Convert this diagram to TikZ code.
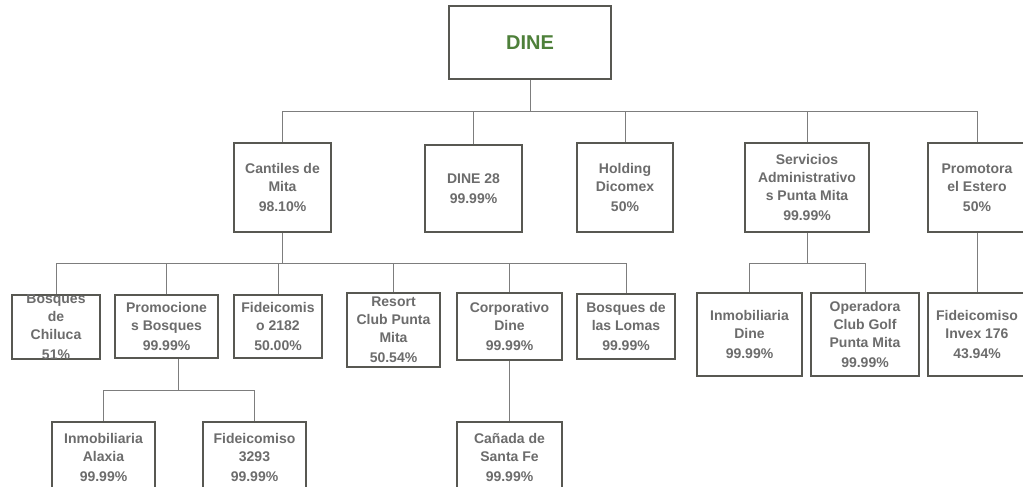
\documentclass[tikz,border=0pt]{standalone}
\usepackage{fontspec}
\setmainfont{Liberation Sans}
\definecolor{boxline}{RGB}{88,88,82}
\definecolor{linkgray}{RGB}{125,125,125}
\definecolor{txtgray}{RGB}{108,108,108}
\definecolor{dinegreen}{RGB}{78,128,58}
\tikzset{
  orgbox/.style={draw=boxline, line width=1.8pt, fill=white, inner sep=0pt},
  orgtext/.style={text=txtgray, font=\fontsize{14}{18}\selectfont\bfseries, align=center, inner sep=0pt},
  link/.style={draw=linkgray, line width=0.9pt}
}

\begin{document}
\begin{tikzpicture}[x=1pt, y=-1pt]
  \useasboundingbox (0,0) rectangle (1023,487);
  \clip (0,0) rectangle (1023,487);

  % holding
  \node[orgbox, line width=2.4pt, minimum width=162pt, minimum height=73pt] (dine) at (530,42.5) {};
  \node[orgtext, text=dinegreen, font=\fontsize{20}{24}\selectfont\bfseries] at (dine) {DINE};

  % companies: name/left/top/right/bottom/text
  \foreach \nm/\xa/\ya/\xb/\yb/\txt in {
    cantiles/234/143/331/232/{Cantiles de\\Mita\\[2pt]98.10\%},
    dine28/425/145/522/232/{DINE 28\\[2pt]99.99\%},
    holding/577/143/673/232/{Holding\\Dicomex\\[2pt]50\%},
    servicios/745/143/869/232/{Servicios\\Administrativo\\s Punta Mita\\[2pt]99.99\%},
    promotora/928/143/1026/232/{Promotora\\el Estero\\[2pt]50\%},
    chiluca/12/295/100/359/{Bosques\\de\\Chiluca\\[2pt]51\%},
    promo/115/295/218/358/{Promocione\\s Bosques\\[2pt]99.99\%},
    fid2182/234/295/322/358/{Fideicomis\\o 2182\\[2pt]50.00\%},
    resort/347/293/440/367/{Resort\\Club Punta\\Mita\\[2pt]50.54\%},
    corpo/457/293/562/360/{Corporativo\\Dine\\[2pt]99.99\%},
    lomas/577/294/675/359/{Bosques de\\las Lomas\\[2pt]99.99\%},
    inmodine/697/293/802/376/{Inmobiliaria\\Dine\\[2pt]99.99\%},
    operadora/811/293/919/376/{Operadora\\Club Golf\\Punta Mita\\[2pt]99.99\%},
    invex/928/293/1026/376/{Fideicomiso\\Invex 176\\[2pt]43.94\%},
    alaxia/52/422/155/492/{Inmobiliaria\\Alaxia\\[2pt]99.99\%},
    fid3293/203/422/306/492/{Fideicomiso\\3293\\[2pt]99.99\%},
    canada/457/422/562/492/{Cañada de\\Santa Fe\\[2pt]99.99\%}}
  {
    \pgfmathsetmacro\bw{\xb-\xa}
    \pgfmathsetmacro\bh{\yb-\ya}
    \node[orgbox, minimum width=\bw pt, minimum height=\bh pt] (\nm) at ({(\xa+\xb)/2},{(\ya+\yb)/2}) {};
    \begin{scope}
      \clip (\nm.south west) rectangle (\nm.north east);
      \node[orgtext] at (\nm) {\txt};
    \end{scope}
  }

  % ownership lines
  \foreach \c in {cantiles,dine28,holding,servicios,promotora}
    \draw[link] (dine.south) -- ++(0,31) -| (\c.north);
  \foreach \c in {chiluca,promo,fid2182,resort,corpo,lomas}
    \draw[link] (cantiles.south) -- ++(0,31) -| (\c.north);
  \foreach \c in {inmodine,operadora}
    \draw[link] (servicios.south) -- ++(0,31) -| (\c.north);
  \draw[link] (promotora.south) -- (invex.north);
  \draw[link] (corpo.south) -- (canada.north);
  \coordinate (promoout) at ([xshift=12pt]promo.south);
  \foreach \c in {alaxia,fid3293}
    \draw[link] (promoout) -- ++(0,32) -| (\c.north);
\end{tikzpicture}
\end{document}
